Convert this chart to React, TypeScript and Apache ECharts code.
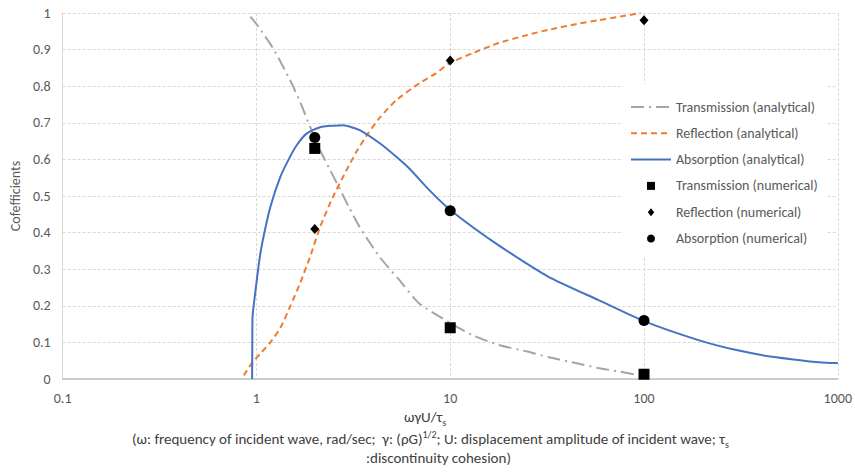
import React, { useEffect, useRef } from "react";
import * as echarts from "echarts";

// Analytical curves: [ωγU/τs, coefficient]
const transmissionAnalytical: [number, number][] = [
  [0.93, 0.99], [1.0, 0.97], [1.23, 0.9], [1.49, 0.817], [1.68, 0.757],
  [1.89, 0.69], [2.13, 0.625], [2.4, 0.571], [2.6, 0.535], [3.0, 0.47],
  [3.41, 0.415], [4.33, 0.333], [5.47, 0.27], [6.9, 0.207], [10, 0.153],
  [13, 0.12], [17.8, 0.093], [25, 0.075], [32, 0.06], [45, 0.043],
  [58, 0.03], [75, 0.02], [93, 0.011],
];

const reflectionAnalytical: [number, number][] = [
  [0.86, 0.01], [0.95, 0.044], [1.05, 0.07], [1.18, 0.1], [1.33, 0.14],
  [1.49, 0.197], [1.68, 0.262], [1.89, 0.333], [2.13, 0.415], [2.48, 0.497],
  [2.92, 0.571], [3.29, 0.622], [3.77, 0.671], [4.33, 0.714], [5.27, 0.762],
  [6.93, 0.808], [8.43, 0.835], [9.86, 0.862], [13, 0.89], [17.8, 0.918],
  [25, 0.94], [32, 0.954], [45, 0.97], [58, 0.98], [75, 0.99], [96, 1.0],
];

const absorptionAnalytical: [number, number][] = [
  [0.95, 0], [0.952, 0.08], [0.955, 0.17], [0.99, 0.243], [1.03, 0.316],
  [1.07, 0.37], [1.18, 0.47], [1.33, 0.553], [1.49, 0.607], [1.62, 0.64],
  [1.82, 0.671], [2.13, 0.688], [2.5, 0.692], [2.8, 0.693], [3.41, 0.68],
  [4.33, 0.644], [5.27, 0.607], [6.15, 0.575], [7.8, 0.516], [10, 0.462],
  [17.8, 0.365], [32, 0.28], [58, 0.216], [100, 0.158], [189, 0.107],
  [300, 0.079], [470, 0.06], [910, 0.044], [1000, 0.044],
];

// Numerical results
const numericalX = [2, 10, 100];
const transmissionNumerical = [0.63, 0.14, 0.013];
const reflectionNumerical = [0.41, 0.87, 0.98];
const absorptionNumerical = [0.66, 0.46, 0.16];

const seriesNames = [
  "Transmission (analytical)",
  "Reflection (analytical)",
  "Absorption (analytical)",
  "Transmission (numerical)",
  "Reflection (numerical)",
  "Absorption (numerical)",
];

// Axis title and its explanation, with sub/superscript markup
const captionLines = [
  "ωγU/τ{sub|s}",
  "(ω: frequency of incident wave, rad/sec;  γ: (ρG){sup|1/2}; U: displacement amplitude of incident wave; τ{sub|s}",
  ":discontinuity cohesion)",
];

const FONT = "Carlito, Lato, 'Noto Sans', sans-serif";
const TEXT = "#595959";
const CAPTION = "#404040";

const SQUARE_ICON = "path://M0,0L10,0L10,10L0,10Z";
const DIAMOND_ICON = "path://M4,0L8,5L4,10L0,5Z";

const pairs = (ys: number[]) => numericalX.map((x, i) => [x, ys[i]]);

const captionRich = {
  sub: { fontSize: 10, verticalAlign: "bottom", lineHeight: 20, color: CAPTION, fontFamily: FONT },
  sup: { fontSize: 10, verticalAlign: "top", lineHeight: 20, color: CAPTION, fontFamily: FONT },
};

const caption = (text: string, left: number, top: number) => ({
  text,
  left,
  top,
  textAlign: "left",
  padding: 0,
  textStyle: {
    fontSize: 15,
    fontWeight: "normal",
    fontFamily: FONT,
    color: CAPTION,
    lineHeight: 20,
    rich: captionRich,
  },
});

export default function App() {
  const ref = useRef<HTMLDivElement>(null);

  useEffect(() => {
    const chart = echarts.init(ref.current!, undefined, { renderer: "svg" });
    chart.setOption({
      animation: false,
      textStyle: { fontFamily: FONT },
      title: [
        caption(captionLines[0], 404, 407),
        caption(captionLines[1], 132, 429),
        caption(captionLines[2], 366, 448),
      ],
      grid: { left: 61, right: 15, top: 13, bottom: 93 },
      xAxis: {
        type: "log",
        logBase: 10,
        min: 0.1,
        max: 1000,
        axisLine: { show: true, lineStyle: { color: "#bfbfbf", width: 1.5 } },
        axisTick: { show: false },
        axisLabel: {
          color: TEXT,
          fontSize: 14,
          fontFamily: FONT,
          margin: 12,
          formatter: (v: number) => String(Number(v.toPrecision(6))),
        },
        splitLine: { show: true, lineStyle: { color: "#d9d9d9", type: [3, 2] } },
      },
      yAxis: {
        type: "value",
        min: 0,
        max: 1,
        interval: 0.1,
        name: "Cofefficients",
        nameLocation: "middle",
        nameGap: 36,
        nameTextStyle: { color: TEXT, fontSize: 14, fontFamily: FONT },
        axisLine: { show: true, lineStyle: { color: "#d9d9d9" } },
        axisTick: { show: false },
        axisLabel: {
          color: TEXT,
          fontSize: 14,
          fontFamily: FONT,
          margin: 12,
          formatter: (v: number) => String(Number(v.toFixed(1))),
        },
        splitLine: { show: true, lineStyle: { color: "#d9d9d9", type: [3, 2] } },
      },
      legend: {
        orient: "vertical",
        left: 623,
        top: 84,
        data: [
          { name: seriesNames[0], itemStyle: { opacity: 0 } },
          { name: seriesNames[1], itemStyle: { opacity: 0 } },
          { name: seriesNames[2], itemStyle: { opacity: 0 } },
          { name: seriesNames[3], icon: SQUARE_ICON },
          { name: seriesNames[4], icon: DIAMOND_ICON },
          { name: seriesNames[5], icon: "circle" },
        ],
        backgroundColor: "#ffffff",
        padding: [16, 8, 10, 7],
        itemWidth: 40,
        itemHeight: 8,
        itemGap: 12.3,
        textStyle: { color: TEXT, fontSize: 14, fontFamily: FONT },
      },
      series: [
        {
          name: seriesNames[0],
          type: "line",
          data: transmissionAnalytical,
          showSymbol: false,
          symbol: "none",
          smooth: 0.2,
          itemStyle: { color: "#a5a5a5" },
          lineStyle: { color: "#a5a5a5", width: 2, type: [13, 5, 2, 5] },
          z: 2,
        },
        {
          name: seriesNames[1],
          type: "line",
          data: reflectionAnalytical,
          showSymbol: false,
          symbol: "none",
          smooth: 0.2,
          itemStyle: { color: "#ed7d31" },
          lineStyle: { color: "#ed7d31", width: 2, type: [6, 4] },
          z: 2,
        },
        {
          name: seriesNames[2],
          type: "line",
          data: absorptionAnalytical,
          showSymbol: false,
          symbol: "none",
          smooth: 0.2,
          itemStyle: { color: "#4472c4" },
          lineStyle: { color: "#4472c4", width: 2 },
          z: 2,
        },
        {
          name: seriesNames[3],
          type: "scatter",
          data: pairs(transmissionNumerical),
          symbol: "rect",
          symbolSize: 11,
          itemStyle: { color: "#000000", opacity: 1 },
          z: 3,
        },
        {
          name: seriesNames[4],
          type: "scatter",
          data: pairs(reflectionNumerical),
          symbol: "diamond",
          symbolSize: [9, 10],
          itemStyle: { color: "#000000", opacity: 1 },
          z: 3,
        },
        {
          name: seriesNames[5],
          type: "scatter",
          data: pairs(absorptionNumerical),
          symbol: "circle",
          symbolSize: 11,
          itemStyle: { color: "#000000", opacity: 1 },
          z: 3,
        },
      ],
    });
    return () => chart.dispose();
  }, []);

  return (
    <div
      ref={ref}
      style={{ position: "absolute", left: 0, top: 0, width: 855, height: 472, background: "#fff" }}
    />
  );
}
